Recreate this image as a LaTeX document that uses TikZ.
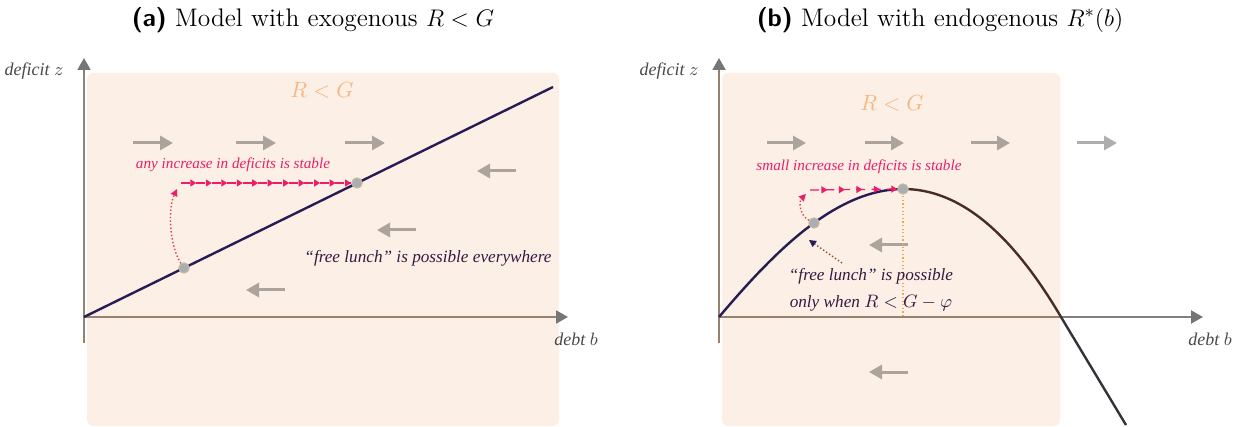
\documentclass[tikz,border=0pt]{standalone}
\usepackage{fontspec}
\newfontfamily\labfont{Liberation Serif}
\usetikzlibrary{arrows.meta,decorations.markings}
\definecolor{peach}{RGB}{252,240,230}
\definecolor{axisc}{RGB}{150,130,112}
\definecolor{axisg}{RGB}{128,128,128}
\definecolor{headg}{RGB}{118,118,118}
\definecolor{flowc}{RGB}{172,164,156}
\definecolor{flowout}{RGB}{174,174,174}
\definecolor{pinkc}{RGB}{234,30,105}
\definecolor{reddot}{RGB}{235,60,70}
\definecolor{navy}{RGB}{40,28,85}
\definecolor{plum}{RGB}{55,25,65}
\definecolor{rgorange}{RGB}{246,182,130}
\definecolor{brownc}{RGB}{72,45,35}
\definecolor{darkc}{RGB}{50,50,56}
\definecolor{labelg}{RGB}{72,72,72}
\definecolor{dotfill}{RGB}{165,175,180}
\definecolor{dotrim}{RGB}{205,185,155}
\definecolor{orangedot}{RGB}{240,165,90}
\definecolor{brdot}{RGB}{140,75,50}
\tikzset{
  region/.style={fill=peach, draw=none, rounded corners=3pt},
  axisline/.style={draw=axisc, line width=1pt},
  axistip/.style={draw=axisg, line width=1pt, -{Triangle[length=6pt,width=6.5pt,color=headg]}},
  flow/.style={draw=flowc, line width=1.5pt, -{Triangle[length=6.5pt,width=7pt]}},
  dotnode/.style={circle, fill=dotfill, draw=dotrim, line width=0.5pt, minimum size=5.2pt, inner sep=0pt},
  titletext/.style={text=black, font=\fontsize{12.7}{15}\selectfont},
  axlabel/.style={text=labelg, font=\labfont\itshape\fontsize{9}{11}\selectfont},
  rgtext/.style={text=rgorange, font=\fontsize{11}{13}\selectfont},
  stabtext/.style={text=pinkc, font=\labfont\itshape\fontsize{7.6}{9}\selectfont},
  lunchtext/.style={text=plum, font=\labfont\itshape\fontsize{8.6}{13.5}\selectfont},
  mainline/.style={draw=navy, line width=1.2pt},
  pinkchain/.style={draw=pinkc, line width=0.6pt, dash pattern=on 4.5pt off 3.2pt,
    postaction={decorate},
    decoration={markings, mark=between positions 0.09 and 1 step 0.0909 with {\arrow{Triangle[length=3pt,width=3.5pt,color=pinkc]}}}},
  pinkchainb/.style={draw=pinkc, line width=0.6pt, dash pattern=on 4.5pt off 3.2pt,
    postaction={decorate},
    decoration={markings, mark=between positions 0.2 and 1 step 0.2 with {\arrow{Triangle[length=3pt,width=3.5pt,color=pinkc]}}}},
  reddotted/.style={draw=reddot, line width=0.7pt, dash pattern=on 0.7pt off 1.1pt, -{Triangle[length=3.5pt,width=3.5pt,color=pinkc]}},
  orangedotted/.style={draw=orangedot, line width=0.6pt, dash pattern=on 0.6pt off 1.2pt},
  browndotted/.style={draw=brdot, line width=0.7pt, dash pattern=on 0.7pt off 1.1pt, -{Triangle[length=3.5pt,width=3.5pt,color=navy]}},
}
\begin{document}
\begin{tikzpicture}[x=0.5pt,y=-0.5pt]
\useasboundingbox (0,0) rectangle (1242,427);
% ---------- titles
\node[titletext] (ta) at (313,20) {{\sffamily\bfseries (a)} Model with exogenous $R<G$};
\node[titletext] (tb) at (940,20) {{\sffamily\bfseries (b)} Model with endogenous $R^*(b)$};
% ---------- panel (a)
\fill[region] (87,73) rectangle (559,426);
\coordinate (ya0) at (84,343);
\coordinate (ya1) at (84,73);
\coordinate (ya2) at (84,58);
\coordinate (oa) at (84,317);
\coordinate (xa2) at (568,317);
\draw[axisline] (ya0) -- (ya1);
\draw[axistip] (ya1) -- (ya2);
\draw[axisline, -{Triangle[length=6pt,width=6.5pt,color=headg]}] (oa) -- (xa2);
\node[axlabel] (za) at (34,71) {deficit $z$};
\node[axlabel] (ba) at (576,339) {debt $b$};
\node[rgtext] (rga) at (322,90) {$R<G$};
\foreach \n/\xs/\xe/\yy in {r1/133/173/143, r2/236/276/143, r3/345/385/143, l1/516/477/171, l2/416/377/230, l3/285/246/290}{
  \coordinate (fa\n s) at (\xs,\yy);
  \coordinate (fa\n e) at (\xe,\yy);
  \draw[flow] (fa\n s) -- (fa\n e);
}
\coordinate (aend) at (553,87);
\draw[mainline] (oa) -- (aend);
\node[dotnode] (a1) at (184,268) {};
\node[dotnode] (a2) at (357,183) {};
\coordinate (aup) at (177,189);
\coordinate (adash) at (181,183);
\draw[reddotted] (a1) .. controls (169,245) and (168,208) .. (aup);
\draw[pinkchain] (adash) -- (a2);
\node[stabtext] (sa) at (233,165) {any increase in deficits is stable};
\node[lunchtext] (la) at (428,258) {“free lunch” is possible everywhere};
% ---------- panel (b)
\fill[region] (722,73) rectangle (1060,426);
\coordinate (yb0) at (719,343);
\coordinate (yb1) at (719,73);
\coordinate (yb2) at (719,58);
\coordinate (ob) at (719,317);
\coordinate (xb1) at (1060,317);
\coordinate (xb2) at (1203,317);
\draw[axisline] (yb0) -- (yb1);
\draw[axistip] (yb1) -- (yb2);
\draw[axisline] (ob) -- (xb1);
\draw[axistip] (xb1) -- (xb2);
\node[axlabel] (zb) at (669,71) {deficit $z$};
\node[axlabel] (bb) at (1210,339) {debt $b$};
\node[rgtext] (rgb) at (892,103) {$R<G$};
\foreach \n/\xs/\xe/\yy in {r1/767/806/143, r2/865/904/143, r3/971/1010/143, l1/908/869/245, l2/908/869/372}{
  \coordinate (fb\n s) at (\xs,\yy);
  \coordinate (fb\n e) at (\xe,\yy);
  \draw[flow] (fb\n s) -- (fb\n e);
}
\coordinate (fbr4s) at (1077,143);
\coordinate (fbr4e) at (1117,143);
\draw[flow, draw=flowout] (fbr4s) -- (fbr4e);
\coordinate (pk) at (903,189);
\coordinate (pkfoot) at (903,317);
\draw[orangedotted] (pk) -- (pkfoot);
\begin{scope}[shift={(719,317)}, yscale=-1]
  \draw[mainline, line join=round] (0,0) -- plot[domain=0.5:184, samples=50] (\x,{1.173*\x*(1-(\x/342)^1.45)});
  \draw[mainline, draw=brownc, line join=round] plot[domain=184:342, samples=50] (\x,{1.173*\x*(1-(\x/342)^1.45)});
  \draw[mainline, draw=darkc] (342,0) -- (407,-108);
\end{scope}
\node[dotnode] (b1) at (814,223) {};
\node[dotnode] (b2) at (pk) {};
\coordinate (bup) at (806,194);
\coordinate (bdash) at (810,190);
\draw[reddotted] (b1) .. controls (799,215) and (799,201) .. (bup);
\draw[pinkchainb] (bdash) -- (b2);
\node[stabtext] (sb) at (859,167) {small increase in deficits is stable};
\coordinate (fl) at (842,263);
\coordinate (flend) at (809,240);
\draw[browndotted] (fl) -- (flend);
\node[lunchtext, align=center] (lb) at (871,290) {“free lunch” is possible\\only when $R<G-\varphi$};
\end{tikzpicture}
\end{document}
